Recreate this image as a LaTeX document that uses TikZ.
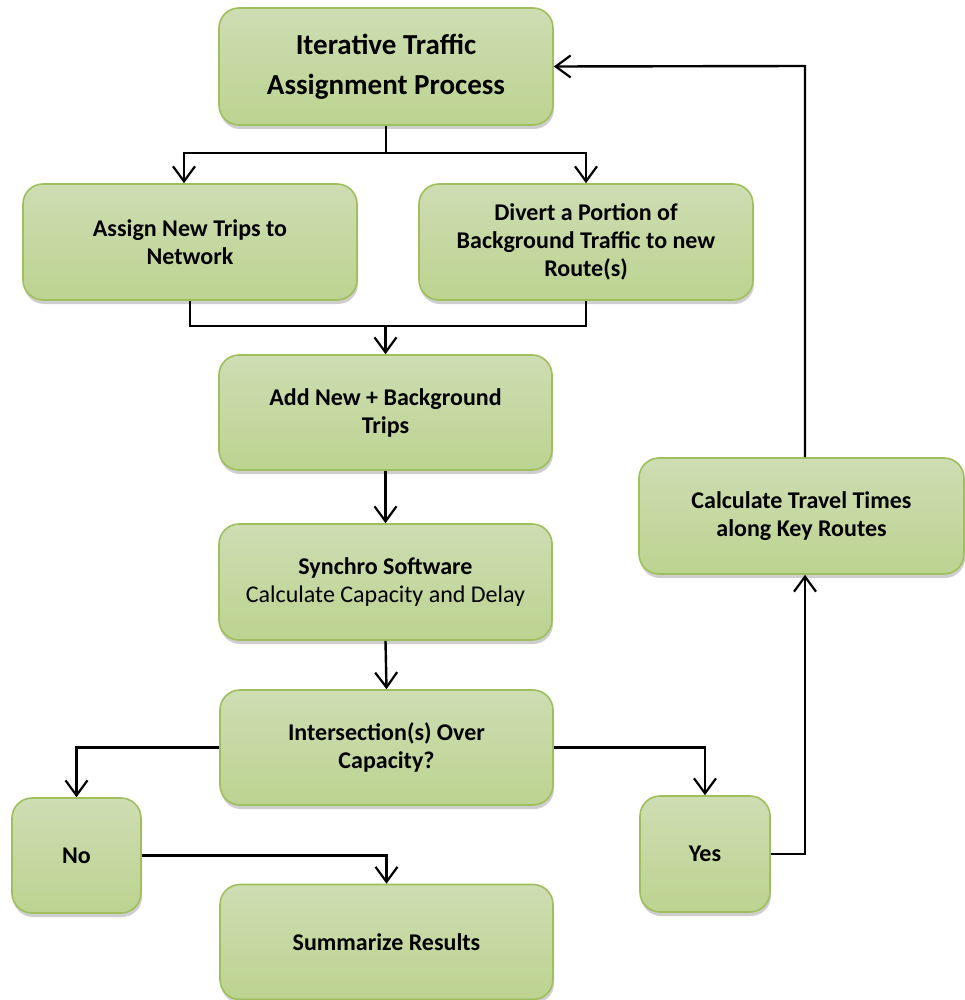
\documentclass[tikz,border=0pt]{standalone}
\usepackage{fontspec}
\setmainfont{Carlito}
\usetikzlibrary{arrows.meta,shadows,calc}
\definecolor{boxtop}{HTML}{CEDDB3}
\definecolor{boxbot}{HTML}{BCD390}
\definecolor{boxline}{HTML}{9EBF5C}
\tikzset{
  flowbox/.style={rectangle, rounded corners=20pt, draw=boxline, line width=1.6pt,
    top color=boxtop, bottom color=boxbot, align=center, inner sep=4pt,
    font=\fontsize{24}{28}\selectfont\bfseries,
    drop shadow={shadow xshift=1pt, shadow yshift=-4pt, opacity=0.35, fill=black!55}},
  conn/.style={line width=2.4pt, draw=black},
  arr/.style={conn, -{Straight Barb[length=15pt,width=22pt,line width=2.2pt]}}
}
\begin{document}
\begin{tikzpicture}[x=1pt,y=-1pt]
\useasboundingbox (0,0) rectangle (964,1000);
\node[flowbox, minimum width=334pt, minimum height=117pt, font=\fontsize{29}{40}\selectfont\bfseries] (top) at (386,66.5) {Iterative Traffic\\Assignment Process};
\node[flowbox, minimum width=334pt, minimum height=116pt] (assign) at (190,242) {Assign New Trips to\\Network};
\node[flowbox, minimum width=334pt, minimum height=116pt] (divert) at (586,242) {Divert a Portion of\\Background Traffic to new\\Route(s)};
\node[flowbox, minimum width=333pt, minimum height=115pt] (add) at (385.5,412.5) {Add New + Background\\Trips};
\node[flowbox, minimum width=333pt, minimum height=116pt] (synchro) at (385.5,582) {Synchro Software\\\mdseries Calculate Capacity and Delay};
\node[flowbox, minimum width=333pt, minimum height=115pt] (inter) at (386.5,747.5) {Intersection(s) Over\\Capacity?};
\node[flowbox, minimum width=129pt, minimum height=115pt] (no) at (76.5,855.5) {No};
\node[flowbox, minimum width=333pt, minimum height=115pt] (summ) at (386.5,942) {Summarize Results};
\node[flowbox, minimum width=130pt, minimum height=116pt] (yes) at (705,854) {Yes};
\node[flowbox, minimum width=325pt, minimum height=116pt] (calc) at (801.5,516) {Calculate Travel Times\\along Key Routes};

\coordinate (j1) at (386,153);
\draw[conn] (top.south) -- (j1);
\draw[arr] (j1) -| ([xshift=-6pt]assign.north);
\draw[arr] (j1) -| (divert.north);

\coordinate (j2) at (385.5,326);
\draw[conn] (assign.south) |- (j2);
\draw[conn] (divert.south) |- (j2);
\draw[arr] (j2) -- (add.north);

\draw[arr] (add.south) -- (synchro.north);
\draw[arr] (synchro.south) -- (inter.north);

\draw[arr] (inter.west) -| (no.north);
\draw[arr] (inter.east) -| (yes.north);
\draw[arr] (no.east) -| (summ.north);

\coordinate (j3) at (805,854);
\coordinate (j4) at (805,66);
\draw[arr] (yes.east) -- (j3) -- (calc.south -| j3);
\draw[arr] (calc.north -| j4) -- (j4) -- (top.east);
\end{tikzpicture}
\end{document}
